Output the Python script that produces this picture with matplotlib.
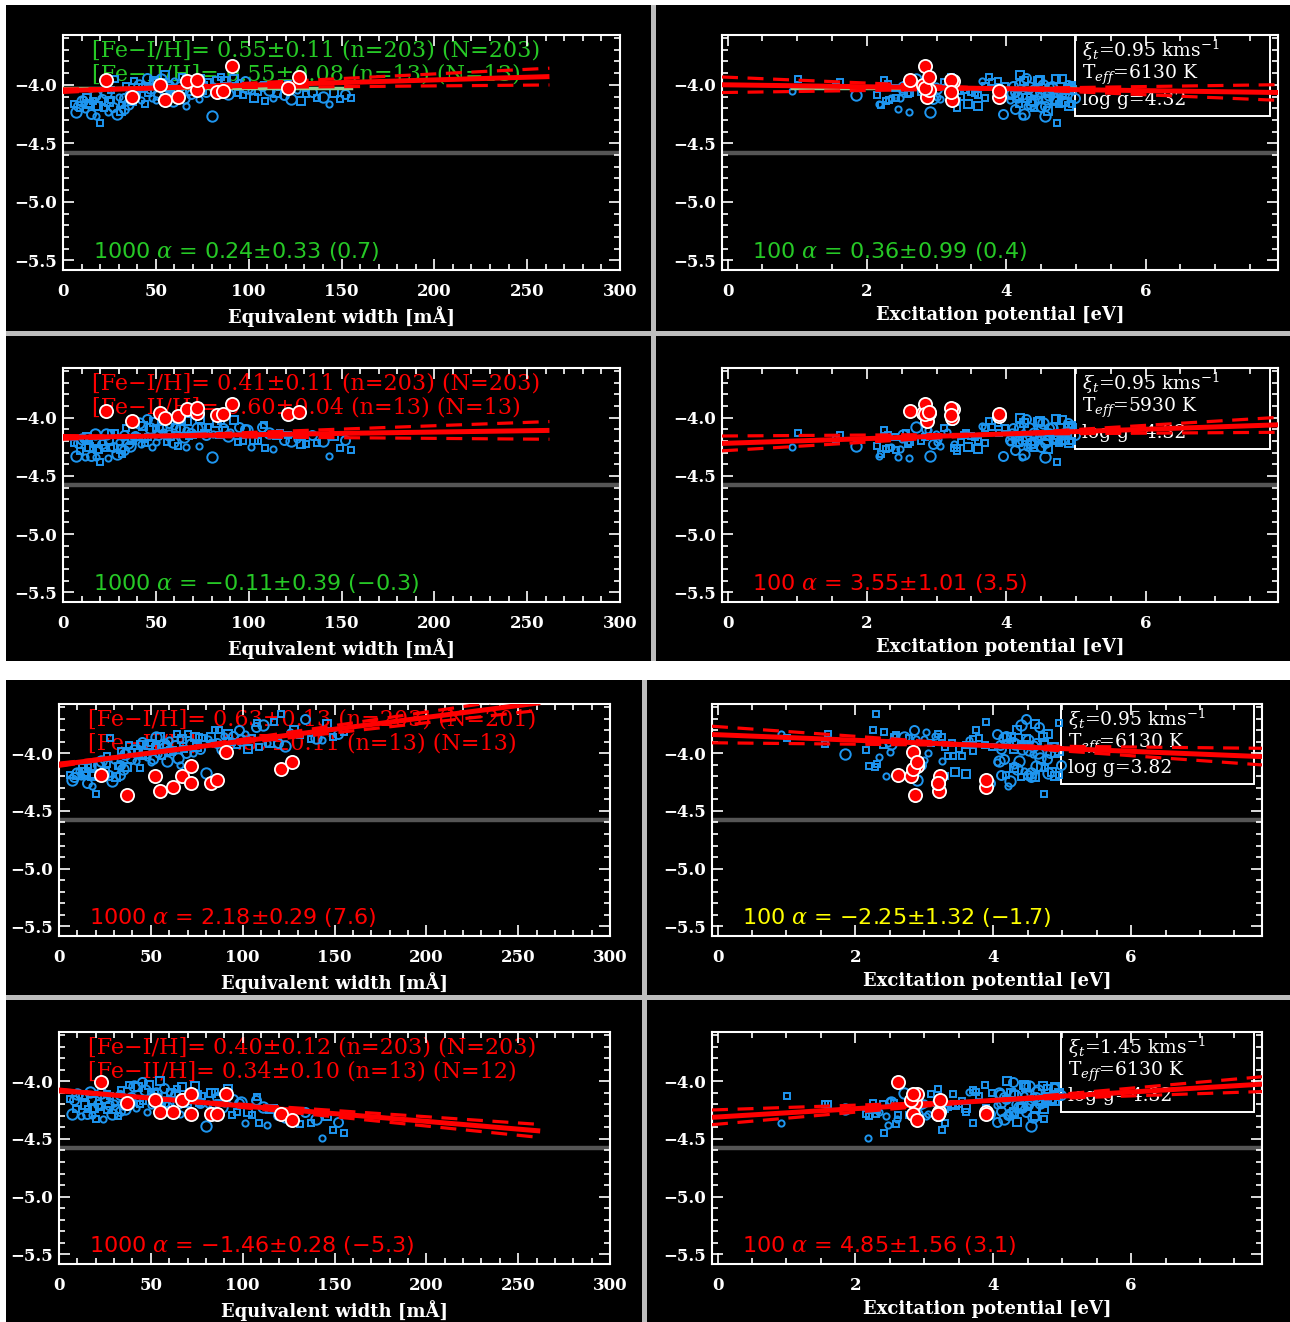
import matplotlib
matplotlib.use("Agg")
import matplotlib.pyplot as plt
from matplotlib.patches import Rectangle
from matplotlib.ticker import MultipleLocator
import numpy as np

plt.rcParams['font.family'] = ['DejaVu Serif']
plt.rcParams['mathtext.fontset'] = 'dejavuserif'

# ---------------- data: Fe I lines ----------------
fe1_ew = [6, 8, 9, 10, 12, 13, 14, 15, 16, 17, 18, 19, 20, 21, 22, 23, 24, 25, 26, 27,
          28, 29, 30, 31, 32, 33, 34, 35, 36, 37, 38, 39, 40, 41, 42, 43, 44, 45, 46, 47,
          48, 49, 50, 51, 52, 53, 54, 55, 56, 57, 58, 59, 60, 61, 62, 63, 64, 65, 66, 67,
          68, 69, 70, 72, 73, 74, 76, 77, 78, 80, 81, 83, 84, 86, 87, 89, 90, 92, 94, 95,
          97, 99, 101, 103, 105, 107, 109, 111, 113, 115, 117, 119, 121, 123, 126, 128, 131, 134, 137, 140,
          143, 146, 149, 152, 155, 7, 11, 18, 26, 33, 44, 57, 66, 75, 85, 98, 108, 36, 50, 14]
fe1_ep = [4.18, 4.55, 3.30, 4.80, 2.45, 4.30, 4.95, 3.95, 2.28, 4.62, 4.22, 3.60, 4.73, 2.95, 4.40, 4.08, 2.60, 4.85, 3.42, 4.50,
          1.01, 4.25, 3.00, 4.60, 2.20, 4.98, 3.70, 4.35, 2.50, 4.70, 3.88, 4.15, 2.83, 4.52, 3.25, 4.90, 1.56, 4.28, 3.55, 4.65,
          2.35, 4.45, 3.10, 4.78, 3.98, 2.70, 4.58, 4.20, 3.35, 4.88, 2.40, 4.38, 3.65, 4.95, 2.15, 4.10, 3.20, 4.68, 2.88, 4.48,
          3.50, 4.83, 1.61, 4.32, 3.05, 4.72, 2.56, 4.12, 3.80, 4.55, 2.99, 4.26, 3.40, 4.62, 2.25, 4.42, 3.15, 4.80, 2.62, 4.18,
          3.60, 4.50, 0.92, 4.30, 2.78, 4.66, 3.30, 4.40, 2.48, 4.74, 3.90, 4.22, 2.30, 4.58, 3.02, 4.35, 2.59, 4.48, 3.70, 4.15,
          2.18, 4.60, 3.25, 4.05, 2.42, 2.90, 4.45, 4.90, 2.32, 4.12, 4.75, 2.52, 4.30, 4.88, 3.75, 2.85, 4.95, 1.85, 4.05, 3.45]
# log abundances of Fe I lines for the four models (rows)
fe1_ab_row1 = [-4.16, -4.18, -4.20, -4.14, -4.21, -4.11, -4.16, -4.25, -4.14, -4.09, -4.27, -4.18, -4.33, -4.12, -4.20, -4.07, -4.23, -4.15, -4.04, -4.19,
               -3.95, -4.25, -4.10, -4.22, -4.17, -4.11, -4.01, -4.16, -4.05, -4.14, -3.97, -4.09, -4.06, -4.00, -4.13, -4.03, -4.01, -3.94, -4.07, -4.03,
               -4.11, -3.97, -3.98, -4.09, -4.01, -3.95, -4.06, -3.92, -4.10, -4.00, -4.03, -4.14, -3.97, -4.04, -4.09, -4.01, -3.93, -4.11, -3.99, -3.96,
               -4.06, -4.08, -3.98, -4.02, -4.12, -3.95, -4.00, -4.06, -3.98, -4.27, -4.01, -3.97, -4.04, -4.02, -3.96, -4.08, -4.00, -3.95, -4.07, -3.99,
               -4.09, -4.03, -4.05, -4.11, -4.06, -4.01, -4.14, -4.04, -4.11, -4.07, -4.02, -4.09, -3.99, -4.12, -4.04, -4.14, -4.08, -4.06, -4.11, -4.10,
               -4.16, -4.07, -4.12, -4.08, -4.11, -4.23, -4.12, -4.18, -4.13, -4.21, -4.16, -4.02, -4.18, -4.04, -3.93, -3.97, -4.00, -4.09, -4.13, -4.16]
fe1_ab_row2 = [-4.22, -4.22, -4.29, -4.18, -4.34, -4.17, -4.20, -4.33, -4.27, -4.14, -4.34, -4.27, -4.38, -4.23, -4.26, -4.14, -4.35, -4.19, -4.13, -4.25,
               -4.13, -4.31, -4.21, -4.27, -4.31, -4.15, -4.09, -4.22, -4.18, -4.19, -4.05, -4.16, -4.17, -4.05, -4.23, -4.07, -4.18, -4.01, -4.17, -4.09,
               -4.25, -4.04, -4.09, -4.15, -4.09, -4.08, -4.12, -4.00, -4.21, -4.05, -4.17, -4.21, -4.07, -4.09, -4.24, -4.09, -4.04, -4.17, -4.11, -4.03,
               -4.16, -4.13, -4.15, -4.09, -4.24, -4.01, -4.13, -4.15, -4.08, -4.34, -4.14, -4.05, -4.15, -4.09, -4.11, -4.16, -4.12, -4.02, -4.21, -4.08,
               -4.20, -4.11, -4.25, -4.19, -4.20, -4.08, -4.26, -4.13, -4.27, -4.15, -4.13, -4.19, -4.15, -4.20, -4.18, -4.23, -4.23, -4.15, -4.22, -4.20,
               -4.33, -4.16, -4.26, -4.19, -4.28, -4.33, -4.18, -4.22, -4.26, -4.28, -4.22, -4.15, -4.25, -4.09, -4.03, -4.10, -4.06, -4.24, -4.21, -4.25]
fe1_ab_row3 = [-4.19, -4.21, -4.20, -4.17, -4.20, -4.13, -4.19, -4.26, -4.12, -4.11, -4.28, -4.18, -4.35, -4.10, -4.21, -4.07, -4.20, -4.16, -4.02, -4.19,
               -3.87, -4.24, -4.06, -4.21, -4.11, -4.10, -3.98, -4.14, -3.99, -4.12, -3.93, -4.05, -3.99, -3.97, -4.07, -4.00, -3.92, -3.90, -4.02, -4.00,
               -4.03, -3.93, -3.91, -4.05, -3.95, -3.86, -4.01, -3.86, -4.02, -3.95, -3.93, -4.07, -3.89, -3.98, -3.97, -3.93, -3.83, -4.04, -3.88, -3.88,
               -3.96, -4.00, -3.83, -3.92, -4.00, -3.86, -3.86, -3.96, -3.87, -4.17, -3.88, -3.86, -3.91, -3.91, -3.80, -3.96, -3.85, -3.83, -3.90, -3.85,
               -3.93, -3.89, -3.83, -3.96, -3.87, -3.77, -3.95, -3.76, -3.91, -3.91, -3.73, -3.91, -3.66, -3.94, -3.82, -3.80, -3.84, -3.70, -3.88, -3.87,
               -3.89, -3.75, -3.86, -3.83, -3.82, -4.23, -4.15, -4.20, -4.09, -4.19, -4.13, -3.92, -4.10, -3.95, -3.80, -3.80, -3.74, -4.01, -4.08, -4.16]
fe1_ab_row4 = [-4.15, -4.16, -4.24, -4.11, -4.30, -4.12, -4.14, -4.28, -4.24, -4.09, -4.29, -4.23, -4.33, -4.20, -4.22, -4.10, -4.33, -4.15, -4.11, -4.21,
               -4.13, -4.28, -4.19, -4.24, -4.30, -4.12, -4.08, -4.20, -4.17, -4.16, -4.03, -4.14, -4.17, -4.04, -4.23, -4.05, -4.20, -4.01, -4.17, -4.08,
               -4.27, -4.03, -4.11, -4.14, -4.10, -4.10, -4.13, -4.00, -4.22, -4.06, -4.20, -4.22, -4.09, -4.10, -4.28, -4.11, -4.07, -4.19, -4.15, -4.05,
               -4.20, -4.16, -4.20, -4.12, -4.28, -4.04, -4.19, -4.19, -4.13, -4.39, -4.20, -4.10, -4.21, -4.14, -4.19, -4.22, -4.19, -4.07, -4.29, -4.15,
               -4.27, -4.18, -4.36, -4.27, -4.29, -4.16, -4.36, -4.22, -4.38, -4.24, -4.23, -4.29, -4.28, -4.31, -4.30, -4.35, -4.37, -4.27, -4.36, -4.33,
               -4.49, -4.30, -4.42, -4.35, -4.45, -4.28, -4.12, -4.17, -4.25, -4.26, -4.20, -4.18, -4.28, -4.12, -4.09, -4.19, -4.14, -4.24, -4.21, -4.21]

# ---------------- data: Fe II lines ----------------
fe2_ew = [23, 37, 52, 55, 62, 67, 72, 72, 83, 86, 91, 121, 127]
fe2_ep = [2.62, 2.86, 2.81, 3.22, 3.89, 3.23, 2.89, 3.20, 3.20, 3.90, 2.84, 2.84, 2.89]
fe2_ab_row1 = [-3.96, -4.10, -4.00, -4.13, -4.10, -3.97, -4.04, -3.96, -4.06, -4.05, -3.84, -4.03, -3.93]
fe2_ab_row2 = [-3.94, -4.03, -3.96, -4.00, -3.99, -3.93, -3.96, -3.92, -3.98, -3.97, -3.88, -3.97, -3.95]
fe2_ab_row3 = [-4.19, -4.36, -4.20, -4.33, -4.29, -4.20, -4.11, -4.26, -4.26, -4.23, -3.99, -4.14, -4.08]
fe2_ab_row4 = [-4.01, -4.19, -4.16, -4.27, -4.27, -4.16, -4.11, -4.28, -4.28, -4.28, -4.11, -4.28, -4.34]

solar_fe = -4.58

# ---------------- fits ----------------
ew_fit_b = [-4.05, -4.17, -4.10, -4.08]
ew_fit_m = [0.00046, 0.00023, 0.00205, -0.00134]
ew_fit_e = [0.00033, 0.00035, 0.00030, 0.00026]
ew_fit_end = 262
ew_pivot = 45
ep_fit_b = [-4.00, -4.22, -3.84, -4.31]
ep_fit_m = [-0.0083, 0.020, -0.024, 0.036]
ep_fit_e = [0.0167, 0.016, 0.018, 0.016]
ep_pivot = 3.9
mean_line_ew = [-4.03, None, None, None]
mean_line_ep = [-4.03, None, None, None]

# ---------------- texts ----------------
model_xi = ["0.95", "0.95", "0.95", "1.45"]
model_teff = ["6130", "5930", "6130", "6130"]
model_logg = ["4.32", "4.32", "3.82", "4.32"]
feI_text = ["[Fe\u2212I/H]= 0.55\u00b10.11 (n=203) (N=203)",
            "[Fe\u2212I/H]= 0.41\u00b10.11 (n=203) (N=203)",
            "[Fe\u2212I/H]= 0.63\u00b10.13 (n=203) (N=201)",
            "[Fe\u2212I/H]= 0.40\u00b10.12 (n=203) (N=203)"]
feII_text = ["[Fe\u2212II/H]= 0.55\u00b10.08 (n=13) (N=13)",
             "[Fe\u2212II/H]= 0.60\u00b10.04 (n=13) (N=13)",
             "[Fe\u2212II/H]= 0.37\u00b10.11 (n=13) (N=13)",
             "[Fe\u2212II/H]= 0.34\u00b10.10 (n=13) (N=12)"]
ew_alpha_text = ["1000 $\\alpha$ = 0.24\u00b10.33 (0.7)",
                 "1000 $\\alpha$ = \u22120.11\u00b10.39 (\u22120.3)",
                 "1000 $\\alpha$ = 2.18\u00b10.29 (7.6)",
                 "1000 $\\alpha$ = \u22121.46\u00b10.28 (\u22125.3)"]
ep_alpha_text = ["100 $\\alpha$ = 0.36\u00b10.99 (0.4)",
                 "100 $\\alpha$ = 3.55\u00b11.01 (3.5)",
                 "100 $\\alpha$ = \u22122.25\u00b11.32 (\u22121.7)",
                 "100 $\\alpha$ = 4.85\u00b11.56 (3.1)"]

GREEN = '#26c826'
RED = '#ff0000'
YELLOW = '#ffff00'
BLUE = '#1e96f0'
PALEGREEN = '#8fcf8f'
header_color = [GREEN, RED, RED, RED]
ew_alpha_color = [GREEN, GREEN, RED, RED]
ep_alpha_color = [GREEN, RED, YELLOW, RED]

ytick_vals = [-5.5, -5.0, -4.5, -4.0]
ytick_labels = ['\u22125.5', '\u22125.0', '\u22124.5', '\u22124.0']
ew_ticks = [0, 50, 100, 150, 200, 250, 300]
ep_ticks = [0, 2, 4, 6]

rows_ab1 = [fe1_ab_row1, fe1_ab_row2, fe1_ab_row3, fe1_ab_row4]
rows_ab2 = [fe2_ab_row1, fe2_ab_row2, fe2_ab_row3, fe2_ab_row4]

# ---------------- figure ----------------
W, H = 1290, 1322
fig = plt.figure(figsize=(W / 100, H / 100), dpi=100)
fig.patch.set_facecolor('white')

bg = fig.add_axes([0, 0, 1, 1], zorder=-10)
bg.set_xlim(0, W); bg.set_ylim(H, 0); bg.axis('off')
bg.add_patch(Rectangle((6, 5), W - 6, 656, fc='black', ec='none'))
bg.add_patch(Rectangle((6, 680), W - 6, H - 680, fc='black', ec='none'))

over = fig.add_axes([0, 0, 1, 1], zorder=10)
over.set_xlim(0, W); over.set_ylim(H, 0); over.axis('off')
SEP = '#bdbdbd'
over.add_patch(Rectangle((651, 5), 5, 656, fc=SEP, ec='none'))
over.add_patch(Rectangle((6, 331), W - 6, 4.5, fc=SEP, ec='none'))
over.add_patch(Rectangle((642, 680), 4.5, H - 680, fc=SEP, ec='none'))
over.add_patch(Rectangle((6, 995), W - 6, 5, fc=SEP, ec='none'))

rows_y = [(35, 270), (368, 602), (704, 936), (1032, 1264)]
left_x = [(63, 620), (63, 620), (59, 610), (59, 610)]
right_x = [(722, 1278), (722, 1278), (712, 1262), (712, 1262)]


def add_ax(xr, yr):
    x0, x1 = xr
    y0, y1 = yr
    return fig.add_axes([x0 / W, 1 - y1 / H, (x1 - x0) / W, (y1 - y0) / H])


def style(ax, xticks, xminor, xlim, xlabel):
    ax.set_facecolor('black')
    for s in ax.spines.values():
        s.set_color('white'); s.set_linewidth(1.5)
    ax.set_xlim(*xlim)
    ax.set_ylim(-5.583, -3.574)
    ax.set_xticks(xticks)
    ax.set_xticklabels([str(t) for t in xticks], fontweight='bold')
    ax.set_yticks(ytick_vals)
    ax.set_yticklabels(ytick_labels, fontweight='bold')
    ax.xaxis.set_minor_locator(MultipleLocator(xminor))
    ax.yaxis.set_minor_locator(MultipleLocator(0.1))
    ax.tick_params(which='both', direction='in', top=True, right=True,
                   color='white', labelcolor='white', width=1.2)
    ax.tick_params(which='major', length=8)
    ax.tick_params(which='minor', length=4)
    ax.tick_params(axis='x', pad=9, labelsize=12)
    ax.tick_params(axis='y', pad=4, labelsize=12)
    ax.set_xlabel(xlabel, color='white', fontsize=13, labelpad=5, fontweight='bold')
    ax.axhline(solar_fe, color='#555555', lw=3.2, zorder=1.5)


mk_cycle = ['s', 'o', 's', 'o', 'o', 's']
ms_cycle = [5.0, 6.5, 4.0, 7.5, 4.5, 6.0]


def draw_points(ax, x1, y1, x2, y2):
    x1 = np.asarray(x1); y1 = np.asarray(y1)
    n = len(mk_cycle)
    for k in range(n):
        ax.plot(x1[k::n], y1[k::n], ls='none', marker=mk_cycle[k], ms=ms_cycle[k],
                mfc='none', mec=BLUE, mew=1.4, zorder=3)
    ax.plot(x2, y2, ls='none', marker='o', ms=9.5, mfc=RED, mec='white', mew=1.3, zorder=6)


def draw_fit(ax, xs, b, m, e, pivot):
    xs = np.asarray(xs, dtype=float)
    ax.plot(xs, b + m * xs, color=RED, lw=3.6, zorder=5, solid_capstyle='butt')
    yp = b + m * pivot
    for sgn in (1, -1):
        ax.plot(xs, yp + (m + sgn * e) * (xs - pivot), color=RED, lw=2.3,
                ls=(0, (5, 3)), zorder=5)


for r in range(4):
    # -------- left: equivalent width --------
    ax = add_ax(left_x[r], rows_y[r])
    style(ax, ew_ticks, 10, (0, 300), "Equivalent width [m\u00c5]")
    draw_points(ax, fe1_ew, rows_ab1[r], fe2_ew, rows_ab2[r])
    if mean_line_ew[r] is not None:
        ax.plot([0, max(fe1_ew)], [mean_line_ew[r]] * 2, color=PALEGREEN, lw=2.5, zorder=4)
    draw_fit(ax, [0, ew_fit_end], ew_fit_b[r], ew_fit_m[r], ew_fit_e[r], ew_pivot)
    ax.text(0.052, 0.932, feI_text[r], transform=ax.transAxes, color=header_color[r],
            fontsize=16, va='center', ha='left', zorder=1)
    ax.text(0.052, 0.830, feII_text[r], transform=ax.transAxes, color=header_color[r],
            fontsize=16, va='center', ha='left', zorder=1)
    ax.text(0.054, 0.080, ew_alpha_text[r], transform=ax.transAxes, color=ew_alpha_color[r],
            fontsize=16, va='center', ha='left', family='DejaVu Sans', zorder=1)

    # -------- right: excitation potential --------
    ax = add_ax(right_x[r], rows_y[r])
    style(ax, ep_ticks, 0.5, (-0.08, 7.9), "Excitation potential [eV]")
    draw_points(ax, fe1_ep, rows_ab1[r], fe2_ep, rows_ab2[r])
    if mean_line_ep[r] is not None:
        ax.plot([min(fe1_ep), max(fe1_ep)], [mean_line_ep[r]] * 2, color=PALEGREEN, lw=2.5, zorder=4)
    draw_fit(ax, [-0.08, 7.9], ep_fit_b[r], ep_fit_m[r], ep_fit_e[r], ep_pivot)
    ax.add_patch(Rectangle((0.635, 0.654), 0.35, 0.346, transform=ax.transAxes,
                           fill=False, ec='white', lw=1.4, zorder=1))
    ax.text(0.648, 0.935, "$\\xi_t$=" + model_xi[r] + " kms$^{-1}$", transform=ax.transAxes,
            color='white', fontsize=13.5, va='center', ha='left', zorder=1)
    ax.text(0.648, 0.830, "T$_{eff}$=" + model_teff[r] + " K", transform=ax.transAxes,
            color='white', fontsize=13.5, va='center', ha='left', zorder=1)
    ax.text(0.648, 0.722, "log g=" + model_logg[r], transform=ax.transAxes,
            color='white', fontsize=13.5, va='center', ha='left', zorder=1)
    ax.text(0.054, 0.080, ep_alpha_text[r], transform=ax.transAxes, color=ep_alpha_color[r],
            fontsize=16, va='center', ha='left', family='DejaVu Sans', zorder=1)

fig.savefig("out.png", dpi=100, facecolor=fig.get_facecolor())
